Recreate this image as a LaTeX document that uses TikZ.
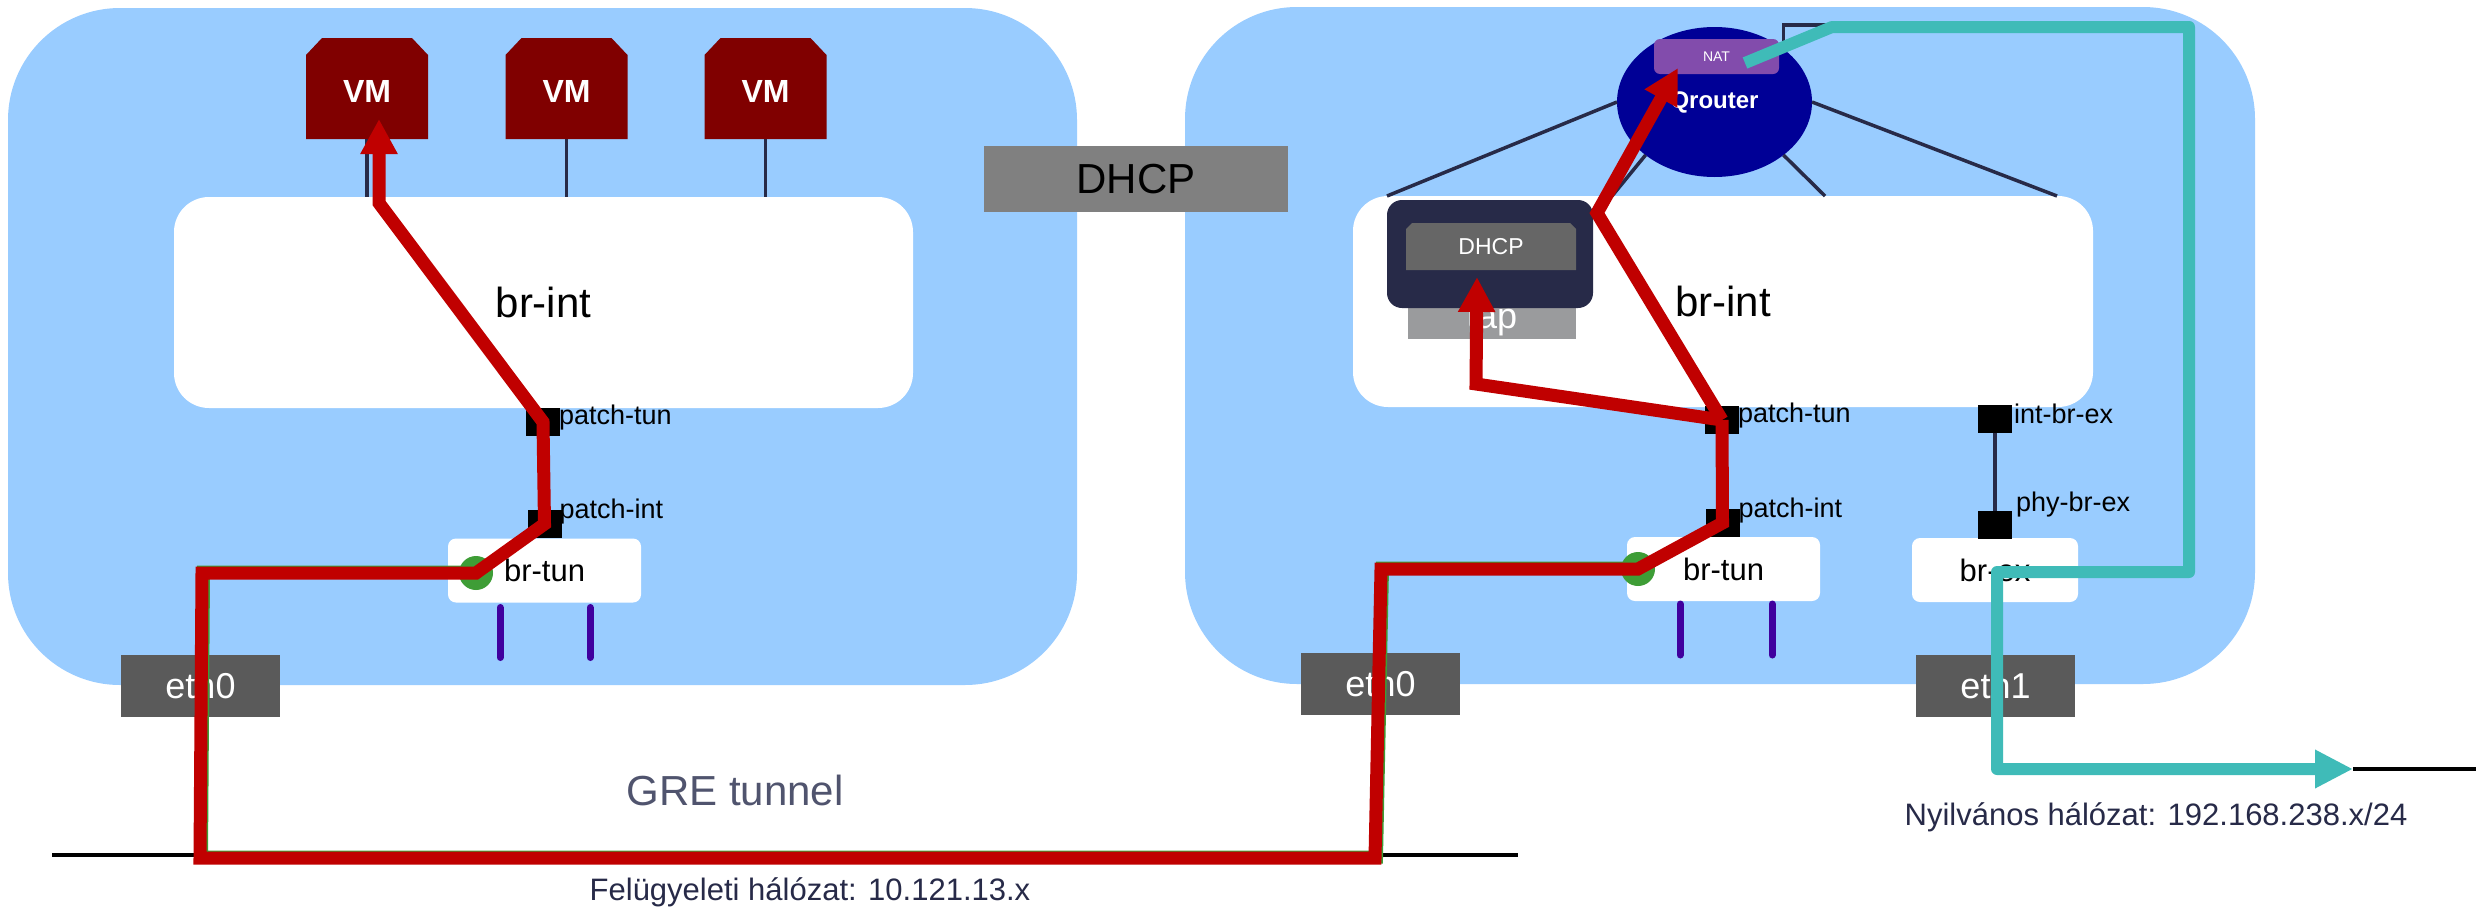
\documentclass[tikz,border=0pt]{standalone}
\usepackage{fontspec}
\setmainfont{Liberation Sans}
\usetikzlibrary{arrows.meta,shapes.geometric,calc}

\definecolor{cloudblue}{HTML}{99CCFF}
\definecolor{vmred}{HTML}{800000}
\definecolor{flowred}{HTML}{C00000}
\definecolor{natteal}{HTML}{3FBBB8}
\definecolor{portgreen}{HTML}{3E9D36}
\definecolor{tunpurple}{HTML}{40009E}
\definecolor{ethgray}{HTML}{5A5A5A}
\definecolor{wirenavy}{HTML}{272A48}
\definecolor{dhcpgray}{HTML}{808080}
\definecolor{nsgray}{HTML}{666666}
\definecolor{tapgray}{HTML}{9A9B9D}
\definecolor{routerblue}{HTML}{000096}
\definecolor{natpurple}{HTML}{824CAC}
\definecolor{labelgray}{HTML}{50546E}

\newcommand{\pxfont}[1]{\fontsize{#1}{#1}\selectfont}

\begin{document}
\begin{tikzpicture}[x=1pt,y=-1pt,
  every node/.style={inner sep=0pt, outer sep=0pt},
  host/.style={fill=cloudblue, rounded corners=112pt},
  bridge/.style={fill=white, rounded corners=35pt, font=\pxfont{42}},
  minibridge/.style={fill=white, rounded corners=8pt, font=\pxfont{31}, minimum width=193pt, minimum height=64pt},
  nic/.style={fill=ethgray, text=white, font=\pxfont{36}, minimum width=159pt, minimum height=62pt},
  portsq/.style={fill=black, minimum width=34pt, minimum height=28pt},
  portname/.style={anchor=base west, font=\pxfont{27}},
  wire/.style={draw=wirenavy, line width=3.5pt},
  tunleg/.style={draw=tunpurple, line width=7pt, line cap=round},
  flow/.style={draw=flowred, line width=13pt, line join=miter},
  flowtip/.style={-{Triangle[length=35pt,width=35pt]}},
  extflow/.style={draw=natteal, line width=12pt, line join=round},
  lan/.style={draw=black, line width=4pt},
]
\useasboundingbox (0,0) rectangle (2476,908);
\fill[white] (0,0) rectangle (2476,908);

% compute hosts
\node[host, minimum width=1069pt, minimum height=677pt] (hostL) at (542.5,346.5) {};
\node[host, minimum width=1070pt, minimum height=677pt] (hostR) at (1720,345.5) {};

% DHCP service between the hosts
\node[fill=dhcpgray, font=\pxfont{42}, minimum width=304pt, minimum height=66pt] (dhcpmid) at (1136,179) {DHCP};

% integration bridges
\node[bridge, minimum width=739pt, minimum height=211pt] (brintL) at (543.5,302.5) {br-int};
\node[bridge, minimum width=740pt, minimum height=211pt] (brintR) at (1723,301.5) {br-int};

% virtual machines
\foreach \i/\vx in {1/367,2/566.5,3/765.5}{
  \node[minimum width=122pt, minimum height=101pt] (vm\i) at (\vx,88.5) {};
  \fill[vmred] (vm\i.south west) -- ($(vm\i.north west)+(0,17)$) -- ($(vm\i.north west)+(16,0)$)
     -- ($(vm\i.north east)+(-16,0)$) -- ($(vm\i.north east)+(0,17)$) -- (vm\i.south east) -- cycle;
  \node[text=white, font=\bfseries\pxfont{32}] (vmname\i) at ($(vm\i.center)+(0,3)$) {VM};
  \draw[wire] (vm\i.south) -- (vm\i.south |- brintL.north);
}

% router namespace
\node[ellipse, fill=routerblue, text=white, font=\bfseries\pxfont{24}, minimum width=195pt, minimum height=150pt] (qr) at (1714.5,102) {Qrouter};
\node[fill=natpurple, rounded corners=6pt, text=white, font=\pxfont{14}, minimum width=125pt, minimum height=35pt] (nat) at (1716.5,56.5) {NAT};
\draw[wire] (qr.west) -- ($(brintR.north west)+(34,0)$);
\draw[wire] (qr.south west) -- ($(brintR.north)+(-111,0)$);
\draw[wire] (qr.south east) -- ($(brintR.north)+(102,0)$);
\draw[wire] (qr.east) -- ($(brintR.north east)+(-36,0)$);
\coordinate (exwire) at (1850,25);
\draw[wire] (qr.north east) |- (exwire);

% DHCP namespace with its tap port
\node[fill=tapgray, text=white, font=\pxfont{36}, minimum width=168pt, minimum height=37pt] (tap) at (1492,320.5) {tap};
\node[fill=wirenavy, rounded corners=15pt, minimum width=206pt, minimum height=108pt] (ns) at (1490,254) {};
\node[minimum width=170pt, minimum height=47pt] (dhcpns) at (1491,246.5) {};
\fill[nsgray] (dhcpns.south west) -- ($(dhcpns.north west)+(0,6)$) -- ($(dhcpns.north west)+(6,0)$)
   -- ($(dhcpns.north east)+(-6,0)$) -- ($(dhcpns.north east)+(0,6)$) -- (dhcpns.south east) -- cycle;
\node[text=white, font=\pxfont{23}] (dhcpnsname) at (dhcpns.center) {DHCP};

% tunnel and external bridges
\node[minibridge] (brtunL) at (544.5,570.5) {br-tun};
\node[minibridge] (brtunR) at (1723.5,569) {br-tun};
\node[minibridge, minimum width=166pt] (brex) at (1995,570) {br-ex};
\draw[tunleg] ($(brtunL.south)+(-44.5,5)$) -- ++(0,50);
\draw[tunleg] ($(brtunL.south)+(45.5,5)$) -- ++(0,50);
\draw[tunleg] ($(brtunR.south)+(-43.5,3)$) -- ++(0,51);
\draw[tunleg] ($(brtunR.south)+(48.5,3)$) -- ++(0,51);
\node[circle, fill=portgreen, minimum size=34pt] (gL) at (476,573) {};
\node[circle, fill=portgreen, minimum size=34pt] (gR) at (1638,569) {};

% patch ports
\node[portsq] (pTunL) at (543,422) {};
\node[portsq] (pIntL) at (544.5,524) {};
\node[portsq] (pTunR) at (1722,420) {};
\node[portsq] (pIntR) at (1722.5,523) {};
\node[portsq] (pIntEx) at (1995,418.5) {};
\node[portsq] (pPhyEx) at (1995,524.5) {};
\draw[wire] (pIntEx) -- (pPhyEx);
\node[portname] (nTunL) at ($(pTunL.east)+(-1,2)$) {patch-tun};
\node[portname] (nIntL) at ($(pIntL.east)+(-2,-6)$) {patch-int};
\node[portname] (nTunR) at ($(pTunR.east)+(-1,2)$) {patch-tun};
\node[portname] (nIntR) at ($(pIntR.east)+(-1,-6)$) {patch-int};
\node[portname] (nIntEx) at ($(pIntEx.east)+(2,5)$) {int-br-ex};
\node[portname] (nPhyEx) at ($(pPhyEx.east)+(4,-13)$) {phy-br-ex};

% physical interfaces
\node[nic] (eth0L) at (200.5,686) {eth0};
\node[nic] (eth0R) at (1380.5,684) {eth0};
\node[nic] (eth1) at (1995.5,686) {eth1};

% networks
\coordinate (mgmtW) at (52,855);
\coordinate (mgmtE) at (1518,855);
\draw[lan] (mgmtW) -- (mgmtE);
\coordinate (pubTip) at (2353,769);
\coordinate (pubE) at (2476,769);
\draw[lan] (pubTip) -- (pubE);

% GRE traffic path
\coordinate (hopR) at (1381,569);
\coordinate (dropR) at (1375,858);
\coordinate (dropL) at (200,858);
\coordinate (hopL) at (202,573);
\coordinate (bendVM) at (379,203);
\coordinate (vmIn) at (379,119);
\coordinate (bendTap) at (1476,384);
\coordinate (tapIn) at (1477,277);
\coordinate (bendNat) at (1597,213);
\coordinate (natIn) at (1678,68);
\draw[draw=portgreen, line width=13pt, line join=miter] ($(gL.center)+(0,-1)$) -- ($(hopL)+(1.5,-1)$) -- ($(dropL)+(1.5,-1)$)
   -- ($(dropR)+(1.5,-1)$) -- ($(hopR)+(1.5,-1)$) -- ($(gR.center)+(0,-1)$);
\draw[flow, flowtip] (pTunR.center) -- (pIntR.center) -- (gR.center) -- (hopR) -- (dropR) -- (dropL) -- (hopL)
   -- (gL.center) -- (pIntL.center) -- (pTunL.center) -- (bendVM) -- (vmIn);
\draw[flow, flowtip] (pTunR.center) -- (bendTap) -- (tapIn);
\draw[flow, flowtip] (pTunR.center) -- (bendNat) -- (natIn);

% external traffic path
\coordinate (natOut) at ($(nat.center)+(28.5,6.5)$);
\coordinate (t1) at (1832,27);
\coordinate (t2) at (2189,27);
\coordinate (t3) at (2189,572);
\coordinate (t4) at (1997,572);
\coordinate (t5) at (1997,769);
\draw[extflow, -{Triangle[length=38pt,width=36pt]}] (natOut) -- (t1) -- (t2) -- (t3) -- (t4) -- (t5) -- (pubTip);

% captions
\node[anchor=base, text=labelgray, font=\pxfont{42}] (gre) at (735,805) {GRE tunnel};
\node[anchor=base, text=wirenavy, font=\pxfont{31}] (mgmtname) at (810,900) {Felügyeleti hálózat: 10.121.13.x};
\node[anchor=base, text=wirenavy, font=\pxfont{31}] (pubname) at (2156,825) {Nyilvános hálózat: 192.168.238.x/24};
\end{tikzpicture}
\end{document}
